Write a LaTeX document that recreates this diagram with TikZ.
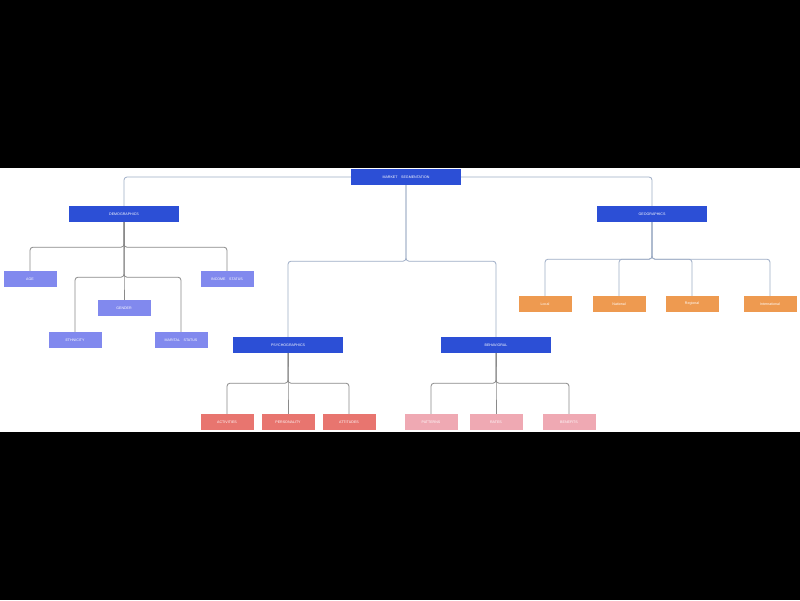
\documentclass[tikz,border=0pt]{standalone}
\usepackage{fontspec}
\setmainfont{Liberation Sans}
\definecolor{mainblue}{HTML}{2C4FD6}
\definecolor{demoblue}{HTML}{8189EE}
\definecolor{geoorange}{HTML}{EE9A50}
\definecolor{psyred}{HTML}{E8756F}
\definecolor{behpink}{HTML}{EFA9B3}
\definecolor{toplink}{HTML}{9EADC6}
\definecolor{lowlink}{HTML}{8A8A8A}
\begin{document}
\begin{tikzpicture}[x=1pt, y=-1pt]
        \tikzstyle{box}=[rectangle,inner sep=0pt,text=white,font=\fontsize{3.6}{4}\selectfont]
        \tikzstyle{head}=[box,fill=mainblue,minimum width=110pt,minimum height=16pt]
        \tikzstyle{demo}=[box,fill=demoblue,minimum width=53pt,minimum height=16pt]
        \tikzstyle{geo}=[box,fill=geoorange,minimum width=53pt,minimum height=16pt]
        \tikzstyle{psy}=[box,fill=psyred,minimum width=53pt,minimum height=16pt]
        \tikzstyle{beh}=[box,fill=behpink,minimum width=53pt,minimum height=16pt]
        \tikzstyle{link}=[toplink,line width=0.8pt,rounded corners=3pt]
        \tikzstyle{sublink}=[lowlink,line width=0.8pt,rounded corners=3pt]

        \fill[black] (0,0) rectangle (800,600);
        \fill[white] (0,168) rectangle (800,432);
        \useasboundingbox (0,0) rectangle (800,600);

        \node[head] (M) at (406,177) {MARKET\quad SEGMENTATION};
        \node[head] (D) at (124,214) {DEMOGRAPHICS};
        \node[head] (G) at (652,214) {GEOGRAPHICS};
        \node[head] (P) at (288,345) {PSYCHOGRAPHICS};
        \node[head] (B) at (496,345) {BEHAVIORAL};

        \node[demo] (D_1) at (30,279)  {AGE};
        \node[demo] (D_2) at (227,279) {INCOME\quad STATUS};
        \node[demo] (D_3) at (124,308) {GENDER};
        \node[demo] (D_4) at (75,340)  {ETHNICITY};
        \node[demo] (D_5) at (181,340) {MARITAL\quad STATUS};

        \node[geo] (G_1) at (545,304) {Local};
        \node[geo] (G_2) at (619,304) {National};
        \node[geo] (G_3) at (692,304) {Regional};
        \node[geo] (G_4) at (770,304) {International};

        \node[psy] (P_1) at (227,422) {ACTIVITIES};
        \node[psy] (P_2) at (288,422) {PERSONALITY};
        \node[psy] (P_3) at (349,422) {ATTITUDES};

        \node[beh] (B_1) at (431,422) {PATTERNS};
        \node[beh] (B_2) at (496,422) {RATES};
        \node[beh] (B_3) at (569,422) {BENEFITS};

        \draw[link] (M.west) -| (D.north);
        \draw[link] (M.east) -| (G.north);
        \draw[link] (M.south) -- ++(0,76) -| (P.north);
        \draw[link] (M.south) -- ++(0,76) -| (B.north);

        \foreach \i in {1,2} \draw[sublink] (D.south) -- ++(0,25) -| (D_\i.north);
        \foreach \i in {3,4,5} \draw[sublink] (D.south) -- ++(0,55) -| (D_\i.north);
        \foreach \i in {1,...,4} \draw[link] (G.south) -- ++(0,37) -| (G_\i.north);
        \foreach \i in {1,2,3} \draw[sublink] (P.south) -- ++(0,30) -| (P_\i.north);
        \foreach \i in {1,2,3} \draw[sublink] (B.south) -- ++(0,30) -| (B_\i.north);
    \end{tikzpicture}
\end{document}
